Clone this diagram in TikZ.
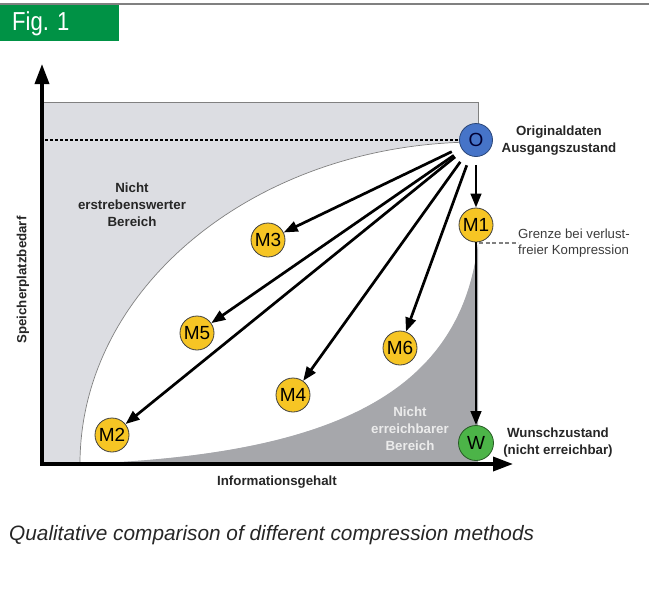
\documentclass[tikz,border=0pt]{standalone}
\usepackage{fontspec}
\setmainfont{Liberation Sans}
\usetikzlibrary{arrows.meta}
\definecolor{figgreen}{RGB}{0,146,69}
\definecolor{lightreg}{RGB}{220,221,226}
\definecolor{darkreg}{RGB}{166,167,171}
\definecolor{nodeyellow}{RGB}{246,197,36}
\definecolor{nodeblue}{RGB}{70,116,200}
\definecolor{nodegreen}{RGB}{76,180,72}
\definecolor{txtgray}{RGB}{60,60,60}
\begin{document}
\begin{tikzpicture}[x=1pt,y=-1pt,
  mnode/.style={circle, draw=black!75, line width=0.8pt, fill=nodeyellow, minimum size=34pt, inner sep=0pt, font=\fontsize{19}{19}\selectfont},
  arr/.style={line width=2.7pt, -{Triangle[length=14pt,width=10.5pt]}},
  lbl/.style={font=\fontsize{13.3}{17}\selectfont\bfseries, align=center, text=black!85}
]
\useasboundingbox (0,0) rectangle (649,614);
% header
\draw[gray, line width=1.5pt] (0,4) -- (649,4);
\fill[figgreen] (0,5) rectangle (119,41);
\node[anchor=west, text=white, font=\fontsize{26}{26}\selectfont, inner sep=0pt] (fig) at (12,24) {\scalebox{0.85}[1]{Fig. 1}};
% regions
\fill[lightreg] (42,102) rectangle (478,464);
\draw[gray, line width=1pt] (42,102) -- (478,102) -- (478,142);
\fill[white] (80,464) .. controls (80,286) and (258,142) .. (478,142) -- (478,243)
  .. controls (460,400) and (320,455) .. (80,464) -- cycle;
\fill[darkreg] (80,464) .. controls (320,455) and (460,400) .. (478,243) -- (478,464) -- cycle;
\draw[gray, line width=0.7pt] (80,464) .. controls (80,286) and (258,142) .. (478,142);
% axes
\coordinate (ytop) at (42,64);
\coordinate (origin) at (42,464);
\coordinate (xend) at (513,464);
\draw[line width=3.5pt, line join=miter, {Triangle[length=20pt,width=14pt]}-{Triangle[length=20pt,width=14pt]}] (ytop) -- (origin) -- (xend);
% nodes
\node[circle, draw=nodeblue!60!black, line width=0.8pt, fill=nodeblue, minimum size=33pt, inner sep=0pt, font=\fontsize{19}{19}\selectfont, text=black!80!blue] (O) at (476,140) {O};
\node[mnode] (M1) at (476,225) {M1};
\node[mnode] (M2) at (112,435) {M2};
\node[mnode] (M3) at (268,240) {M3};
\node[mnode] (M4) at (293,395) {M4};
\node[mnode] (M5) at (197,333) {M5};
\node[mnode] (M6) at (400,348) {M6};
\node[circle, draw=nodegreen!50!black, line width=0.8pt, fill=nodegreen, minimum size=35pt, inner sep=0pt, font=\fontsize{19}{19}\selectfont] (W) at (476,443) {W};
% dashed line to O
\coordinate (dstart) at (45,140);
\draw[line width=1.2pt, dash pattern=on 3pt off 2pt] (dstart) -- (O.west);
% arrows
\foreach \t in {M2,M3,M4,M5,M6} {\draw[arr, shorten <=10pt] (O) -- (\t);}
\draw[arr, shorten <=8pt] (O) -- (M1);
\draw[arr] (M1) -- (W);
% labels
\node[lbl] (orig) at (559,141) {Originaldaten\\Ausgangszustand};
\node[lbl] (wunsch) at (558,443) {Wunschzustand\\(nicht erreichbar)};
\node[lbl] (nerstr) at (132,205) {Nicht\\erstrebenswerter\\Bereich};
\node[lbl, text=black!8] (nerr) at (410,429) {Nicht\\erreichbarer\\Bereich};
\node[lbl] (xlab) at (277,482) {Informationsgehalt};
\node[lbl, rotate=90] (ylab) at (23,280) {Speicherplatzbedarf};
\node[anchor=west, align=left, text=txtgray, font=\fontsize{13.2}{15.5}\selectfont, inner sep=0pt] (grenze) at (518,243) {Grenze bei verlust-\\freier Kompression};
\coordinate (gstart) at (479,243);
\draw[gray, line width=1.2pt, dash pattern=on 4pt off 2.5pt] (gstart) -- (grenze.west);
% caption
\node[anchor=west, inner sep=0pt, text=black!85, font=\fontsize{20.8}{21}\selectfont\itshape] (cap) at (9,535) {Qualitative comparison of different compression methods};
\end{tikzpicture}
\end{document}
